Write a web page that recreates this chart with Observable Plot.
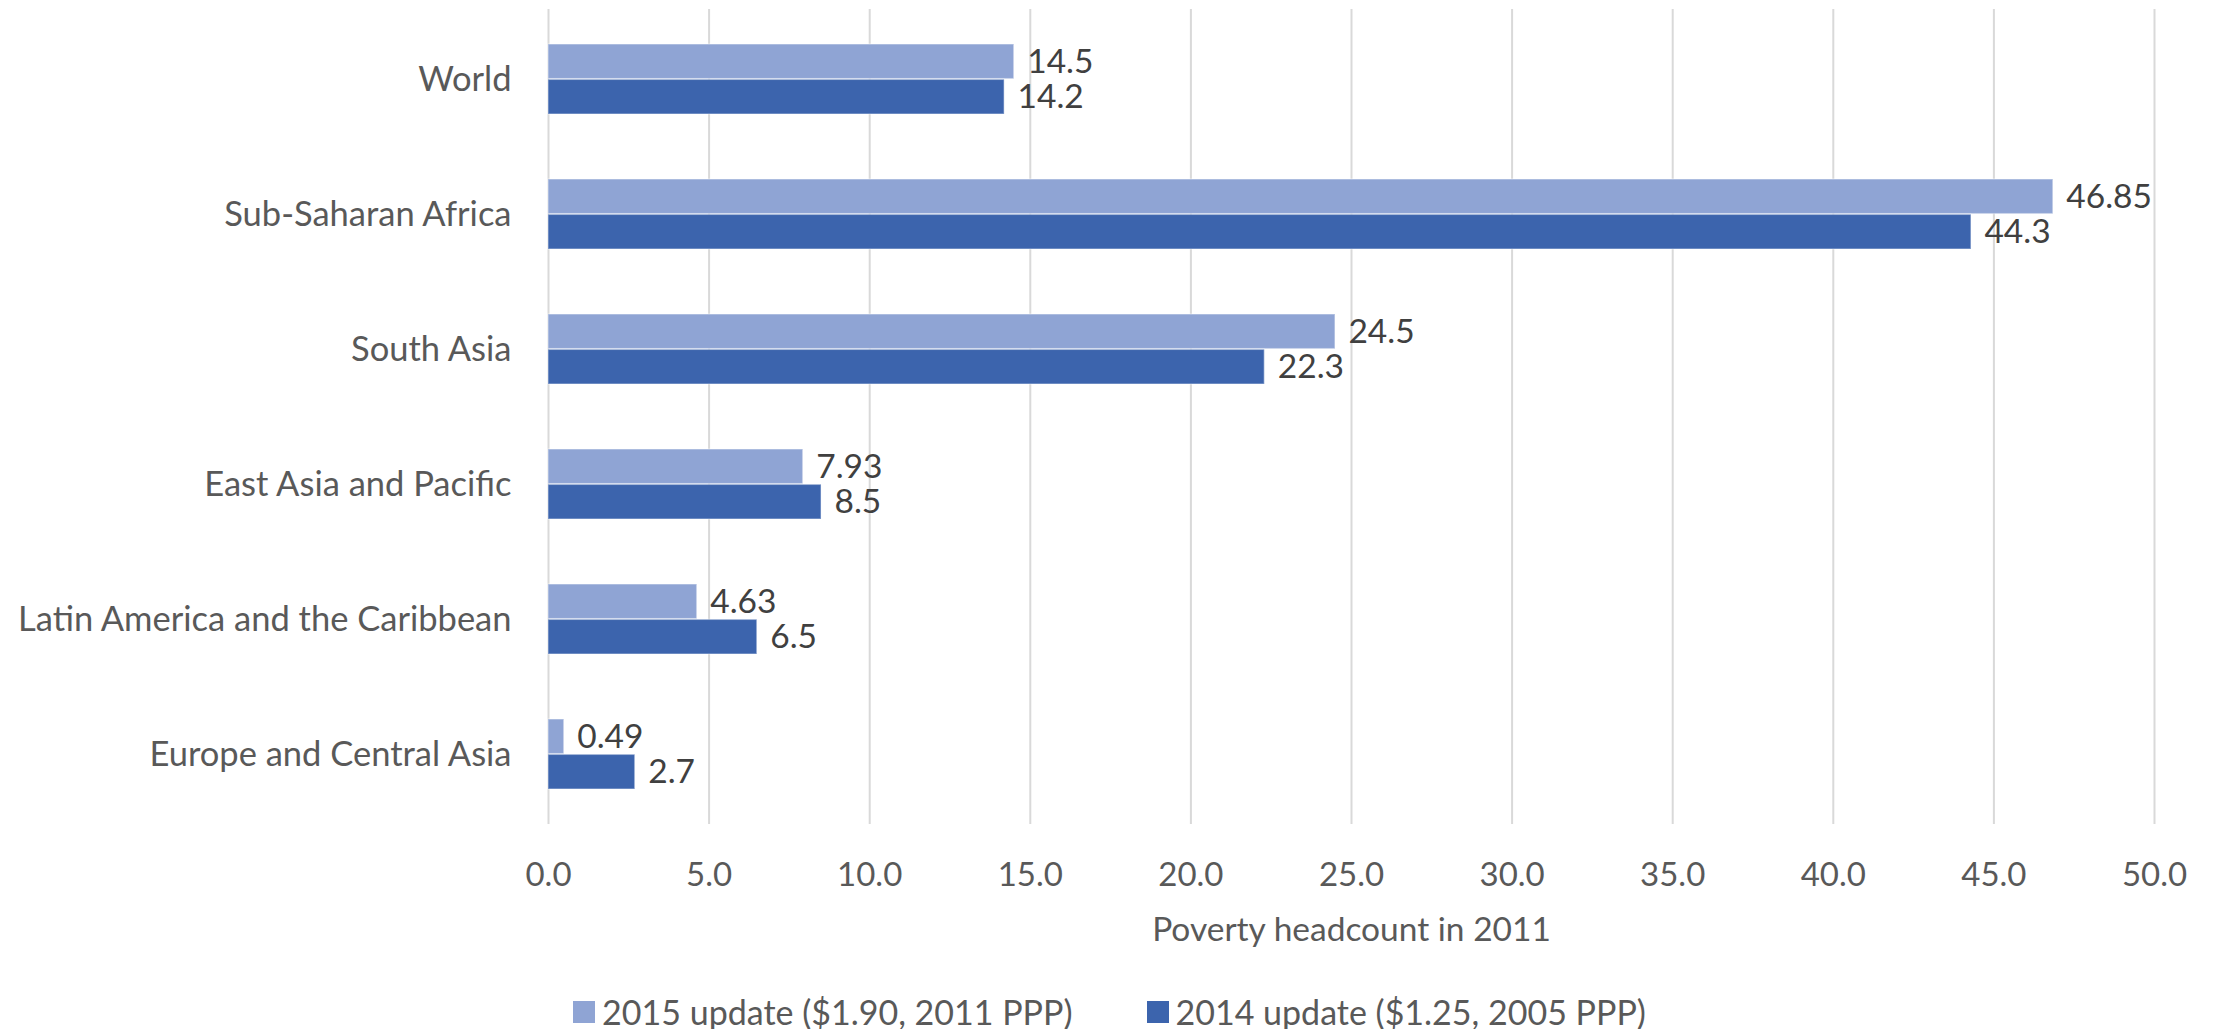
<!DOCTYPE html>
<html>
<head>
<meta charset="utf-8">
<script src="https://cdn.jsdelivr.net/npm/d3@7"></script>
<script src="https://cdn.jsdelivr.net/npm/@observablehq/plot@0.6"></script>
<style>
  html, body { margin: 0; padding: 0; background: #fff; }
  body { width: 2219px; height: 1029px; position: relative; overflow: hidden; font-family: Lato, "Open Sans", sans-serif; }
  #legend { position: absolute; left: 0; width: 2219px; top: 991px; display: flex; justify-content: center; align-items: center; font-size: 34px; color: #595959; font-family: Lato, "Open Sans", sans-serif; }
  .item { display: flex; align-items: center; }
  .item + .item { margin-left: 74px; }
  .sw { width: 22px; height: 22px; margin-right: 7px; }
</style>
</head>
<body>
<div id="chart"></div>
<div id="legend"></div>
<script>
const regions = ["World", "Sub-Saharan Africa", "South Asia", "East Asia and Pacific", "Latin America and the Caribbean", "Europe and Central Asia"];
const seriesNames = ["2015 update ($1.90, 2011 PPP)", "2014 update ($1.25, 2005 PPP)"];
const values2015 = [14.5, 46.85, 24.5, 7.93, 4.63, 0.49];
const values2014 = [14.2, 44.3, 22.3, 8.5, 6.5, 2.7];
const xTicks = [0, 5, 10, 15, 20, 25, 30, 35, 40, 45, 50];
const axisTitle = "Poverty headcount in 2011";
const colors = ["#8FA4D4", "#3C64AD"];

const rows2015 = regions.map((r, i) => ({region: r, value: values2015[i], label: String(values2015[i])}));
const rows2014 = regions.map((r, i) => ({region: r, value: values2014[i], label: String(values2014[i])}));

const W = 2219, H = 985;
const mTop = 9, mBottom = H - 824;
const band = (824 - 9) / regions.length * 0.52;
const half = band / 2;

const chart = Plot.plot({
  width: W,
  height: H,
  marginLeft: 548,
  marginRight: 65,
  marginTop: mTop,
  marginBottom: mBottom,
  style: {fontFamily: 'Lato, "Open Sans", sans-serif', fontSize: "33px", background: "#fff", color: "#595959"},
  x: {domain: [0, 50], ticks: xTicks},
  y: {domain: regions, paddingInner: 0.48, paddingOuter: 0.24, align: 0.5},
  marks: [
    Plot.gridX(xTicks, {stroke: "#D9D9D9", strokeOpacity: 1, strokeWidth: 2}),
    Plot.barX(rows2015, {x: "value", y: "region", fill: colors[0], stroke: "#ffffff", strokeOpacity: 0.35, strokeWidth: 1.5, insetBottom: half}),
    Plot.barX(rows2014, {x: "value", y: "region", fill: colors[1], stroke: "#ffffff", strokeOpacity: 0.35, strokeWidth: 1.5, insetTop: half}),
    Plot.text(rows2015, {x: "value", y: "region", text: "label", dx: 13, dy: -half / 2, textAnchor: "start", fill: "#404040", fontSize: 33.5}),
    Plot.text(rows2014, {x: "value", y: "region", text: "label", dx: 13, dy: half / 2, textAnchor: "start", fill: "#404040", fontSize: 33.5}),
    Plot.axisY({tickSize: 0, tickPadding: 37, label: null, fill: "#595959", fontSize: 34.5}),
    Plot.axisX(xTicks, {tickSize: 0, tickPadding: 38, tickFormat: d3.format(".1f"), label: null, fill: "#595959", fontSize: 33}),
    Plot.text([axisTitle], {frameAnchor: "bottom", dy: 106, lineAnchor: "middle", fill: "#595959", fontSize: 33.5})
  ]
});
document.getElementById("chart").appendChild(chart);

const legend = document.getElementById("legend");
seriesNames.forEach((name, i) => {
  const item = document.createElement("div");
  item.className = "item";
  const sw = document.createElement("div");
  sw.className = "sw";
  sw.style.background = colors[i];
  const t = document.createElement("span");
  t.textContent = name;
  item.appendChild(sw);
  item.appendChild(t);
  legend.appendChild(item);
});
</script>
</body>
</html>
